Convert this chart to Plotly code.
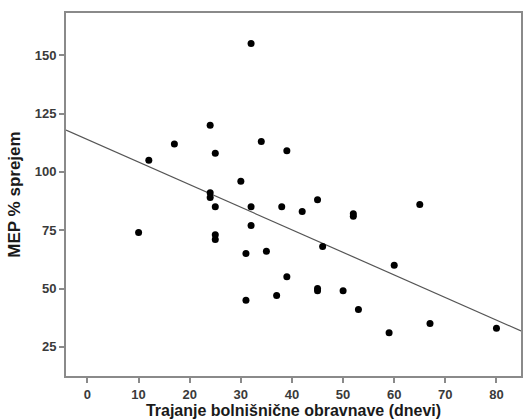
import numpy as np
import plotly.graph_objects as go

days = [32, 24, 17, 12, 25, 34, 39, 30, 24, 24, 25, 32, 38, 45, 42, 65, 52, 52,
        10, 25, 25, 32, 31, 35, 46, 60, 39, 31, 37, 45, 45, 50, 53, 59, 67, 80]
mep = [155, 120, 112, 105, 108, 113, 109, 96, 91, 89, 85, 85, 85, 88, 83, 86, 82, 81,
       74, 73, 71, 77, 65, 66, 68, 60, 55, 45, 47, 50, 49, 49, 41, 31, 35, 33]

x_range = [-4.2, 84.8]
y_range = [12.5, 168.1]
x_ticks = [0, 10, 20, 30, 40, 50, 60, 70, 80]
y_ticks = [25, 50, 75, 100, 125, 150]

slope, intercept = np.polyfit(days, mep, 1)
lx = np.array(x_range)
ly = intercept + slope * lx

fig = go.Figure()
fig.add_trace(go.Scatter(x=lx, y=ly, mode="lines",
                         line=dict(color="#555555", width=1.2), hoverinfo="skip"))
fig.add_trace(go.Scatter(x=days, y=mep, mode="markers",
                         marker=dict(color="black", size=7)))

fam = "Liberation Sans, Arial, sans-serif"
axis_common = dict(showline=True, linecolor="#8a8a8a", linewidth=2, mirror=True,
                   ticks="outside", ticklen=5, tickcolor="#8a8a8a", tickwidth=1.5,
                   showgrid=False, zeroline=False,
                   tickfont=dict(family=fam, size=13, color="#3a3a3a"))
fig.update_layout(
    width=526, height=420,
    margin=dict(l=66, r=3, t=13, b=44),
    paper_bgcolor="white", plot_bgcolor="white",
    showlegend=False,
    font=dict(family=fam, color="#333333"),
    xaxis=dict(range=x_range, tickvals=x_ticks,
               ticktext=[f"<b>{v}</b>" for v in x_ticks], **axis_common,
               title=dict(text="<b>Trajanje bolnišnične obravnave (dnevi)</b>",
                          font=dict(family=fam, size=16, color="#1a1a1a"), standoff=2)),
    yaxis=dict(range=y_range, tickvals=y_ticks,
               ticktext=[f"<b>{v}</b>" for v in y_ticks], **axis_common,
               title=dict(text="<b>MEP % sprejem</b>",
                          font=dict(family=fam, size=17, color="#1a1a1a"), standoff=10)),
)
fig.write_html("out.html")
